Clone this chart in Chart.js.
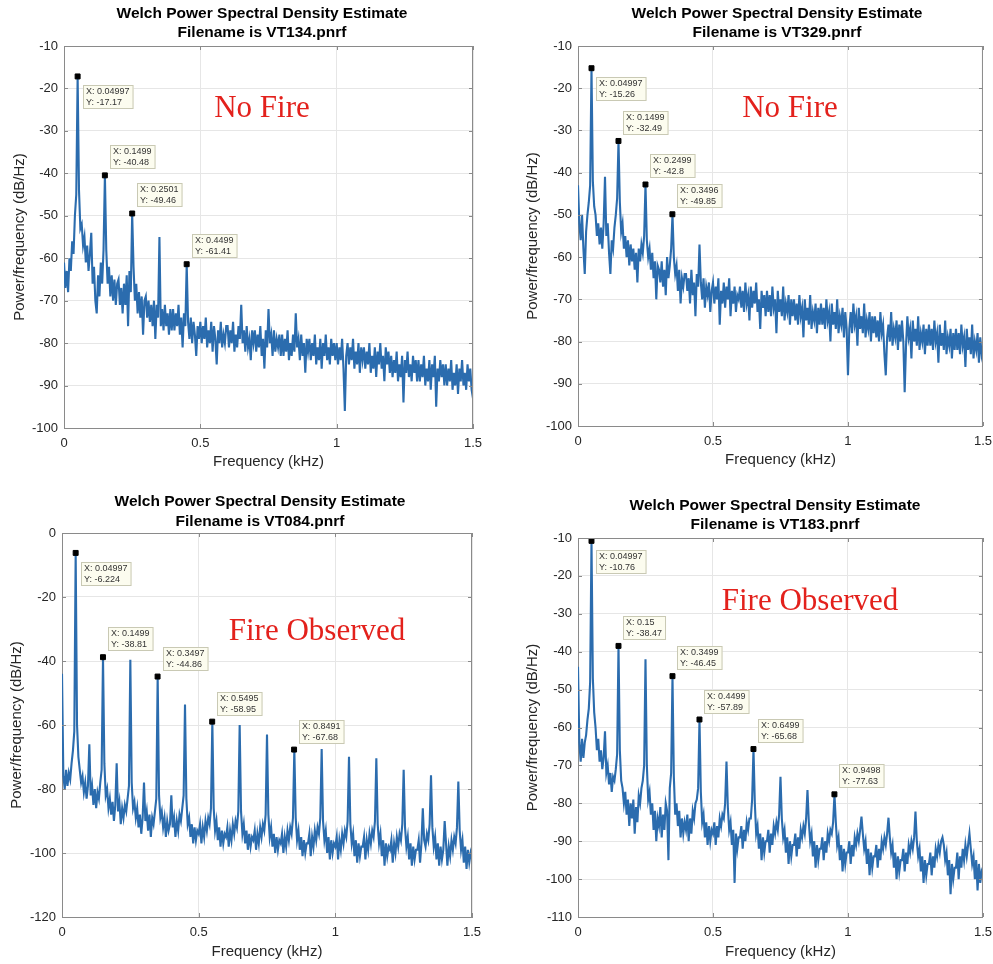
<!DOCTYPE html>
<html><head><meta charset="utf-8">
<script src="https://cdn.jsdelivr.net/npm/chart.js@4.4.1/dist/chart.umd.min.js"></script>
<style>
html,body{margin:0;padding:0;background:#fff;overflow:hidden;width:993px;height:964px;}
.p{position:absolute;}
canvas{display:block;}
</style></head><body>
<div class="p" style="left:0;top:0"><canvas id="c0" width="500" height="480"></canvas></div>
<div class="p" style="left:500px;top:0"><canvas id="c1" width="500" height="480"></canvas></div>
<div class="p" style="left:0;top:480px"><canvas id="c2" width="500" height="484"></canvas></div>
<div class="p" style="left:500px;top:480px"><canvas id="c3" width="500" height="484"></canvas></div>
<script>
// ---------------- DATA ----------------
const TITLE_LINE1 = 'Welch Power Spectral Density Estimate';
const FILE_NAMES = ['VT134.pnrf', 'VT329.pnrf', 'VT084.pnrf', 'VT183.pnrf'];
const CONDITIONS = ['No Fire', 'No Fire', 'Fire Observed', 'Fire Observed'];
const X_TITLE = 'Frequency (kHz)';
const Y_TITLE = 'Power/frequency (dB/Hz)';
const X_TICKS = [0, 0.5, 1, 1.5];
const Y_RANGES = [[-100, -10], [-100, -10], [-120, 0], [-110, -10]];
const Y_STEPS = [10, 10, 20, 10];

// frequency grid, kHz (0 .. 1.5 every 0.005)
const FREQ_STEP = 0.005;
const FREQ = Array.from({length: 301}, (_, i) => +(i * FREQ_STEP).toFixed(3));

const PSD_VT134 = [
-61,-67,-63,-68,-60,-63,-56,-59,-50,-45,-17.17,-44,-53,-52,-57,-55,-61,-57,-63,-59,
-54,-66,-62,-70,-73,-64,-69,-61,-66,-58,-40.48,-58,-66,-62,-69,-64,-70,-65,-71,-66,
-65,-71,-67,-73,-66,-71,-64,-76,-63,-68,-49.46,-62,-70,-66,-73,-68,-74,-69,-78,-70,
-69,-74,-70,-75,-71,-76,-70,-79,-71,-74,-55,-76,-72,-77,-71,-76,-73,-78,-72,-77,
-72,-77,-73,-76,-71,-78,-74,-81,-73,-76,-61.41,-75,-79,-74,-80,-75,-78,-83,-76,-79,
-75,-80,-76,-79,-74,-81,-77,-80,-75,-82,-76,-79,-85,-77,-80,-75,-81,-78,-80,-76,
-76,-81,-77,-80,-75,-82,-78,-81,-76,-79,-71,-80,-77,-82,-76,-81,-79,-84,-77,-80,
-77,-82,-78,-81,-76,-83,-79,-86,-77,-81,-72,-80,-78,-83,-77,-82,-79,-81,-78,-83,
-78,-83,-79,-82,-77,-84,-80,-83,-78,-82,-73,-81,-79,-84,-78,-83,-80,-87,-79,-82,
-79,-84,-80,-83,-78,-85,-81,-84,-79,-86,-80,-83,-78,-84,-81,-85,-79,-83,-80,-84,
-80,-85,-81,-84,-79,-86,-96,-83,-80,-85,-81,-84,-79,-86,-82,-85,-80,-87,-81,-84,
-81,-86,-82,-85,-80,-87,-83,-86,-81,-88,-82,-85,-80,-86,-83,-89,-81,-85,-82,-87,
-83,-88,-84,-87,-82,-89,-85,-88,-83,-94,-84,-87,-82,-88,-85,-89,-83,-87,-84,-89,
-84,-89,-85,-88,-83,-90,-86,-89,-84,-91,-85,-88,-83,-95,-86,-89,-84,-88,-85,-90,
-85,-90,-86,-89,-84,-91,-87,-90,-85,-92,-86,-89,-84,-90,-87,-91,-85,-89,-86,-91,
-93];

const PSD_VT329 = [
-43,-52,-56,-50,-58,-64,-54,-50,-47,-43,-15.26,-42,-48,-50,-55,-52,-57,-53,-58,-52,
-41,-55,-52,-59,-64,-56,-58,-53,-50,-46,-32.49,-47,-54,-52,-58,-55,-60,-56,-62,-57,
-61,-58,-63,-59,-66,-58,-61,-57,-59,-55,-42.8,-56,-60,-58,-63,-59,-65,-61,-70,-62,
-63,-66,-61,-67,-63,-69,-60,-65,-62,-58,-49.85,-60,-64,-62,-68,-63,-71,-65,-67,-64,
-64,-68,-65,-71,-63,-69,-66,-74,-64,-67,-57,-66,-70,-65,-72,-67,-69,-66,-73,-68,
-66,-71,-67,-70,-65,-76,-68,-71,-66,-72,-67,-70,-65,-74,-68,-71,-67,-73,-69,-70,
-67,-72,-68,-73,-66,-71,-69,-75,-67,-72,-68,-71,-66,-73,-70,-77,-68,-72,-69,-74,
-68,-73,-69,-74,-67,-72,-70,-78,-68,-73,-70,-74,-67,-75,-71,-73,-69,-76,-70,-74,
-70,-75,-71,-76,-69,-74,-72,-79,-70,-75,-72,-76,-69,-77,-73,-75,-71,-78,-72,-76,
-71,-76,-72,-77,-70,-75,-73,-80,-71,-76,-73,-77,-70,-78,-74,-76,-72,-79,-73,-77,
-88,-77,-73,-78,-71,-76,-74,-81,-72,-77,-74,-78,-71,-79,-75,-77,-73,-80,-74,-78,
-74,-79,-75,-80,-73,-78,-76,-83,-88,-79,-76,-80,-73,-81,-77,-79,-75,-82,-76,-80,
-75,-80,-92,-81,-74,-79,-77,-84,-75,-80,-77,-81,-74,-82,-78,-80,-76,-83,-77,-81,
-76,-81,-77,-82,-75,-80,-78,-85,-76,-81,-78,-82,-75,-83,-79,-81,-77,-84,-78,-82,
-77,-82,-78,-83,-76,-81,-79,-86,-77,-82,-79,-83,-76,-84,-80,-82,-78,-85,-79,-83,
-81];

const PSD_VT084 = [
-44,-76,-80,-74,-79,-75,-77,-72,-68,-62,-6.224,-60,-70,-74,-78,-76,-81,-78,-83,-79,
-66,-82,-79,-85,-80,-86,-81,-83,-78,-74,-38.81,-72,-82,-80,-86,-83,-88,-84,-90,-85,
-72,-87,-84,-91,-86,-89,-85,-87,-83,-79,-39.6,-78,-86,-84,-89,-86,-92,-88,-94,-89,
-78,-90,-87,-93,-88,-95,-89,-91,-87,-83,-44.86,-82,-89,-87,-92,-89,-95,-90,-93,-91,
-82,-92,-89,-95,-90,-93,-88,-90,-86,-82,-53.6,-83,-91,-89,-95,-91,-97,-92,-96,-93,
-94,-91,-97,-92,-95,-90,-93,-89,-91,-86,-58.95,-86,-93,-90,-96,-92,-98,-93,-97,-94,
-95,-92,-98,-93,-96,-91,-94,-90,-92,-87,-60,-87,-94,-91,-97,-93,-99,-94,-98,-95,
-96,-93,-99,-94,-97,-92,-95,-91,-93,-88,-63,-88,-95,-92,-98,-94,-100,-95,-99,-96,
-97,-94,-100,-95,-98,-93,-96,-92,-94,-89,-67.68,-89,-96,-93,-99,-95,-101,-96,-100,-97,
-97,-94,-101,-95,-98,-93,-96,-92,-94,-89,-67.5,-90,-96,-93,-100,-95,-102,-96,-100,-97,
-98,-95,-102,-96,-99,-94,-97,-93,-95,-90,-69.9,-91,-97,-94,-101,-96,-103,-97,-101,-98,
-98,-95,-102,-96,-99,-94,-97,-93,-95,-90,-70.4,-91,-97,-94,-101,-96,-104,-97,-101,-98,
-99,-96,-103,-97,-100,-95,-98,-94,-96,-91,-74,-92,-98,-95,-102,-97,-104,-98,-102,-99,
-99,-96,-103,-97,-86,-96,-98,-94,-96,-91,-75.7,-92,-98,-95,-102,-97,-104,-98,-102,-99,
-90,-97,-104,-98,-101,-96,-99,-95,-97,-92,-77.7,-93,-99,-96,-103,-98,-105,-99,-103,-100,
-102];

const PSD_VT183 = [
-44,-64,-69,-63,-68,-64,-62,-58,-55,-48,-10.76,-47,-56,-60,-66,-63,-69,-66,-71,-68,
-61,-72,-70,-75,-72,-77,-73,-74,-71,-67,-38.47,-66,-74,-76,-80,-77,-83,-79,-86,-80,
-84,-79,-88,-81,-85,-78,-80,-76,-74,-70,-42,-70,-79,-77,-83,-80,-87,-82,-90,-84,
-86,-81,-89,-83,-87,-80,-82,-95,-76,-72,-46.45,-73,-83,-80,-86,-82,-89,-84,-88,-85,
-87,-83,-90,-84,-88,-82,-84,-80,-79,-76,-57.89,-77,-85,-83,-89,-85,-91,-86,-90,-87,
-88,-85,-91,-86,-89,-84,-86,-83,-84,-80,-69,-81,-87,-85,-91,-87,-101,-88,-92,-89,
-89,-86,-92,-87,-90,-85,-87,-84,-84,-79,-65.68,-80,-88,-86,-92,-88,-95,-89,-93,-90,
-90,-87,-93,-88,-91,-86,-88,-85,-87,-83,-73,-84,-89,-87,-93,-89,-96,-90,-94,-91,
-91,-88,-94,-89,-92,-87,-89,-86,-88,-84,-76.5,-85,-90,-88,-94,-90,-97,-91,-95,-92,
-92,-89,-95,-90,-93,-88,-90,-87,-88,-85,-77.63,-85,-91,-89,-95,-91,-98,-92,-96,-93,
-93,-90,-96,-91,-94,-89,-91,-88,-90,-87,-83.5,-88,-92,-90,-96,-92,-99,-93,-97,-94,
-94,-91,-97,-92,-95,-90,-92,-89,-91,-88,-83.8,-89,-93,-91,-97,-93,-100,-94,-98,-95,
-95,-92,-98,-93,-96,-91,-93,-90,-92,-89,-82.2,-90,-94,-92,-98,-94,-101,-95,-99,-96,
-96,-93,-99,-94,-97,-92,-94,-91,-93,-90,-89,-91,-95,-93,-99,-95,-104,-96,-100,-97,
-97,-93,-100,-94,-97,-92,-95,-91,-94,-91,-88,-92,-96,-94,-100,-95,-103,-96,-101,-98,
-99];

// data-tip (marked peak) values
const PEAK_X_VT134 = [0.04997, 0.1499, 0.2501, 0.4499];
const PEAK_Y_VT134 = [-17.17, -40.48, -49.46, -61.41];
const PEAK_X_VT329 = [0.04997, 0.1499, 0.2499, 0.3496];
const PEAK_Y_VT329 = [-15.26, -32.49, -42.8, -49.85];
const PEAK_X_VT084 = [0.04997, 0.1499, 0.3497, 0.5495, 0.8491];
const PEAK_Y_VT084 = [-6.224, -38.81, -44.86, -58.95, -67.68];
const PEAK_X_VT183 = [0.04997, 0.15, 0.3499, 0.4499, 0.6499, 0.9498];
const PEAK_Y_VT183 = [-10.76, -38.47, -46.45, -57.89, -65.68, -77.63];

const SERIES = [PSD_VT134, PSD_VT329, PSD_VT084, PSD_VT183];
const PEAKS_X = [PEAK_X_VT134, PEAK_X_VT329, PEAK_X_VT084, PEAK_X_VT183];
const PEAKS_Y = [PEAK_Y_VT134, PEAK_Y_VT329, PEAK_Y_VT084, PEAK_Y_VT183];

// ---------------- LAYOUT (pixels, per canvas) ----------------
const PANELS = [
  {W:500, H:480, L:64, R:473, T:46, B:428, tx:262, ty1:14, ty2:33, yTitlePad:11, xTitlePad:9, lx:262, ly:109},
  {W:500, H:480, L:78, R:484, T:46, B:426, tx:277, ty1:14, ty2:33, yTitlePad:24, xTitlePad:11, lx:290, ly:109},
  {W:500, H:484, L:62, R:472, T:53, B:437, tx:260, ty1:22, ty2:42, yTitlePad:8,  xTitlePad:3, lx:317, ly:152},
  {W:500, H:484, L:78, R:483, T:58, B:437, tx:275, ty1:26, ty2:45, yTitlePad:24, xTitlePad:3, lx:310, ly:122}
];

const FONT = '"Liberation Sans", Arial, Helvetica, sans-serif';
const AX = '#262626';

const decor = {
  id: 'decor',
  afterDraw(chart, args, o) {
    const {ctx, chartArea: a, scales: {x, y}} = chart;
    const P = o.panel;
    ctx.save();
    ctx.strokeStyle = '#8a8a8a'; ctx.lineWidth = 1;
    ctx.beginPath();
    ctx.moveTo(a.left, a.top + 0.5); ctx.lineTo(a.right, a.top + 0.5);
    ctx.moveTo(a.right - 0.5, a.top); ctx.lineTo(a.right - 0.5, a.bottom);
    x.ticks.forEach(t => {
      const px = Math.round(x.getPixelForValue(t.value)) + 0.5;
      ctx.moveTo(px, a.bottom); ctx.lineTo(px, a.bottom - 4);
      ctx.moveTo(px, a.top); ctx.lineTo(px, a.top + 4);
    });
    y.ticks.forEach(t => {
      const py = Math.round(y.getPixelForValue(t.value)) + 0.5;
      ctx.moveTo(a.left, py); ctx.lineTo(a.left + 4, py);
      ctx.moveTo(a.right, py); ctx.lineTo(a.right - 4, py);
    });
    ctx.stroke();
    ctx.fillStyle = '#000';
    ctx.font = 'bold 15.5px ' + FONT;
    ctx.textAlign = 'center'; ctx.textBaseline = 'middle';
    ctx.fillText(TITLE_LINE1, P.tx, P.ty1);
    ctx.fillText('Filename is ' + o.file, P.tx, P.ty2);
    ctx.font = '9px ' + FONT;
    ctx.textAlign = 'left';
    o.px.forEach((vx, i) => {
      const mx = x.getPixelForValue(vx), my = y.getPixelForValue(o.py[i]);
      const l1 = 'X: ' + vx, l2 = 'Y: ' + o.py[i];
      const w = Math.max(ctx.measureText(l1).width, ctx.measureText(l2).width) + 7;
      const h = 24;
      const bx = Math.round(mx + 5);
      const by = Math.round(i === 0 ? my + 9 : my - 6 - h);
      ctx.fillStyle = 'rgba(252,252,238,0.95)';
      ctx.fillRect(bx, by, w, h);
      ctx.strokeStyle = '#c9c9b4';
      ctx.strokeRect(bx + 0.5, by + 0.5, w - 1, h - 1);
      ctx.fillStyle = '#333';
      ctx.fillText(l1, bx + 3, by + 7);
      ctx.fillText(l2, bx + 3, by + 18);
    });
    ctx.fillStyle = '#e3211c';
    ctx.font = '31px "Liberation Serif", "Times New Roman", serif';
    ctx.textAlign = 'center'; ctx.textBaseline = 'middle';
    ctx.fillText(o.cond, P.lx, P.ly);
    ctx.restore();
  }
};

function makeChart(k) {
  const P = PANELS[k];
  const vals = SERIES[k];
  const cv = document.getElementById('c' + k);
  new Chart(cv, {
    type: 'line',
    data: {
      datasets: [
        {
          label: 'PSD ' + FILE_NAMES[k],
          data: FREQ.map((f, i) => ({x: f, y: vals[i]})),
          borderColor: '#2b6cae', borderWidth: 2.1, pointRadius: 0,
          tension: 0, fill: false, order: 1, borderJoinStyle: 'miter'
        },
        {
          label: 'Data tips',
          data: PEAKS_X[k].map((f, i) => ({x: f, y: PEAKS_Y[k][i]})),
          showLine: false, pointStyle: 'rect', pointRadius: 3.5,
          backgroundColor: '#000', borderColor: '#000', borderWidth: 1, order: 0
        }
      ]
    },
    options: {
      responsive: false, animation: false, devicePixelRatio: 1,
      layout: {autoPadding: false, padding: {left: 0, top: P.T, right: P.W - P.R, bottom: 0}},
      plugins: {
        legend: {display: false}, tooltip: {enabled: false}, title: {display: false},
        decor: {panel: P, file: FILE_NAMES[k], cond: CONDITIONS[k], px: PEAKS_X[k], py: PEAKS_Y[k]}
      },
      scales: {
        x: {
          type: 'linear', min: 0, max: 1.5,
          afterBuildTicks: s => { s.ticks = X_TICKS.map(v => ({value: v})); },
          afterFit: s => { s.height = P.H - P.B; },
          grid: {color: '#e6e6e6', drawTicks: false},
          border: {display: true, color: '#8a8a8a', width: 1},
          ticks: {padding: 8, color: AX, font: {family: FONT, size: 13}, maxRotation: 0, autoSkip: false,
                  callback: v => String(v)},
          title: {display: true, text: X_TITLE, color: AX, font: {family: FONT, size: 15}, padding: {top: 0, bottom: P.xTitlePad}}
        },
        y: {
          type: 'linear', min: Y_RANGES[k][0], max: Y_RANGES[k][1],
          ticks: {stepSize: Y_STEPS[k], padding: 6, color: AX, font: {family: FONT, size: 13}, autoSkip: false},
          afterFit: s => { s.width = P.L; },
          grid: {color: '#e6e6e6', drawTicks: false},
          border: {display: true, color: '#8a8a8a', width: 1},
          title: {display: true, text: Y_TITLE, color: AX, font: {family: FONT, size: 15}, padding: {top: P.yTitlePad, bottom: 0}}
        }
      }
    },
    plugins: [decor]
  });
}
[0, 1, 2, 3].forEach(makeChart);
</script>
</body></html>
